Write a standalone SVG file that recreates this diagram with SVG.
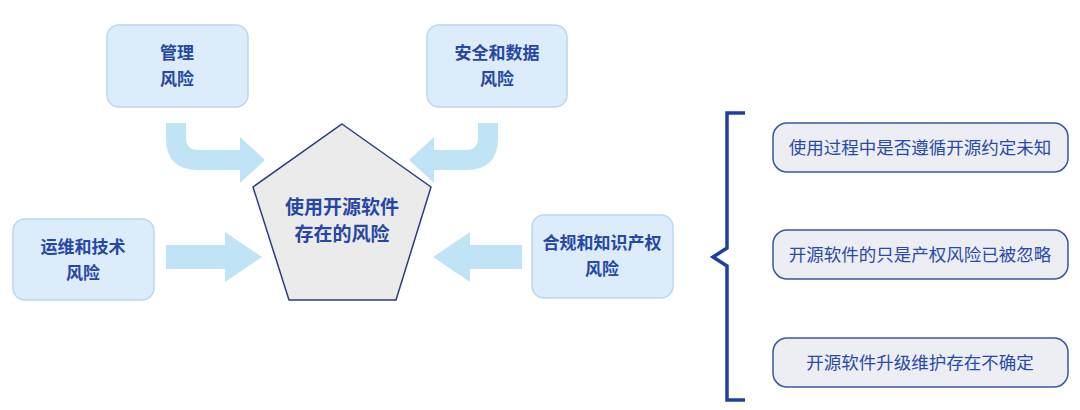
<svg xmlns="http://www.w3.org/2000/svg" width="1080" height="410" viewBox="0 0 1080 410">
<style>
.n{fill:#dcecfa;stroke:#b9d7ef;stroke-width:1.5}
.t{font-family:"Liberation Sans","Noto Sans CJK SC",sans-serif;font-size:17px;font-weight:bold;fill:#2747a6;text-anchor:middle}
.c{font-size:19px}
.r{fill:#eceef4;stroke:#3a5797;stroke-width:1.5}
.rt{font-family:"Liberation Sans","Noto Sans CJK SC",sans-serif;font-size:17.5px;fill:#2a4aa8;text-anchor:middle}
.a{fill:#c0e3f5}
</style>
<rect width="1080" height="410" fill="#fff"/>
<g id="connectors">
<path class="a" d="M166,123 h20 v15 q0,12 12,12 h42 v-13 l25,23 l-25,23 v-13 h-42 q-32,0 -32,-32 z"/>
<path class="a" d="M498,123 h-20 v15 q0,12 -12,12 h-32 v-13 l-25,23 l25,23 v-13 h32 q32,0 32,-32 z"/>
<path class="a" d="M166,245 h59 v-13 l37,25 l-37,25 v-13 h-59 z"/>
<path class="a" d="M522,245 h-52 v-13 l-37,25 l37,25 v-13 h52 z"/>
<path d="M745,113 h-18 v135 l-14,9 l14,9 v134 h18" fill="none" stroke="#1c3fa0" stroke-width="3.5"/>
</g>
<g id="center">
<polygon points="342,124 431,187 396,300 289,300 253,187" fill="#ebebeb" stroke="#2c3e7a" stroke-width="1.5"/>
<text class="t c" x="342" y="214">使用开源软件</text>
<text class="t c" x="342" y="241">存在的风险</text>
</g>
<g id="n1"><rect class="n" x="107" y="25" width="141" height="82" rx="12"/><text class="t" x="177" y="59">管理</text><text class="t" x="177" y="85">风险</text></g>
<g id="n2"><rect class="n" x="427" y="25" width="140" height="82" rx="12"/><text class="t" x="497" y="59">安全和数据</text><text class="t" x="497" y="85">风险</text></g>
<g id="n3"><rect class="n" x="13" y="219" width="141" height="81" rx="12"/><text class="t" x="83" y="253">运维和技术</text><text class="t" x="83" y="279">风险</text></g>
<g id="n4"><rect class="n" x="532" y="215" width="141" height="83" rx="12"/><text class="t" x="602" y="249">合规和知识产权</text><text class="t" x="602" y="275">风险</text></g>
<g id="r1"><rect class="r" x="773" y="123" width="295" height="49" rx="14"/><text class="rt" x="920" y="154">使用过程中是否遵循开源约定未知</text></g>
<g id="r2"><rect class="r" x="773" y="230" width="295" height="49" rx="14"/><text class="rt" x="920" y="261">开源软件的只是产权风险已被忽略</text></g>
<g id="r3"><rect class="r" x="773" y="338" width="295" height="49" rx="14"/><text class="rt" x="920" y="369">开源软件升级维护存在不确定</text></g>
</svg>
